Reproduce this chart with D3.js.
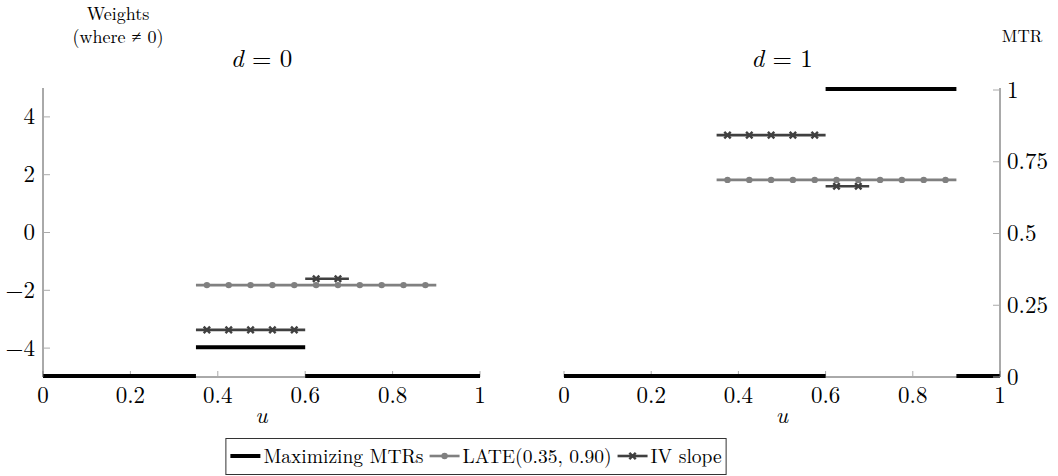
<!DOCTYPE html>
<meta charset="utf-8">
<script src="https://d3js.org/d3.v7.min.js"></script>
<style>
  body { margin: 0; background: #fff; }
</style>
<body>
<div id="chart"></div>
<script>
// ---- data ----
const uTicks = [0, 0.2, 0.4, 0.6, 0.8, 1];
const weightTicks = [-4, -2, 0, 2, 4];
const mtrTicks = [0, 0.25, 0.5, 0.75, 1];

// maximizing MTRs (right axis), piecewise constant
const mtrBreaksD0 = [0, 0.35, 0.6, 1];
const mtrD0 = [0, 0.1, 0];
const mtrBreaksD1 = [0, 0.6, 0.9, 1];
const mtrD1 = [0, 1, 0];

// LATE(0.35, 0.90) weights (left axis)
const lateBreaks = [0.35, 0.9];
const lateD0 = [-1.82];
const lateD1 = [1.82];
const lateMarks = [0.375, 0.425, 0.475, 0.525, 0.575, 0.625, 0.675, 0.725, 0.775, 0.825, 0.875];

// IV slope weights (left axis)
const ivBreaks = [0.35, 0.6, 0.7];
const ivD0 = [-3.37, -1.6];
const ivD1 = [3.37, 1.6];
const ivMarks = [0.375, 0.425, 0.475, 0.525, 0.575, 0.625, 0.675];

const legendLabels = ["Maximizing MTRs", "LATE(0.35, 0.90)", "IV slope"];

const W = 1058, H = 476;
const black = "#000", lateCol = "#808080", ivCol = "#404040", axisCol = "#555", tickCol = "#aaa";
const FONT = '"Latin Modern Roman", "CMU Serif", "Liberation Serif", serif';

const svg = d3.select("#chart").append("svg")
    .attr("width", W).attr("height", H);

// every text gets the font set on itself
function txt(sel, size) {
  return sel.append("text").style("font-family", FONT).style("font-size", size + "px").attr("fill", "#000");
}

const yW = d3.scaleLinear().domain([-5, 5]).range([377, 88]);
const yM = d3.scaleLinear().domain([0, 1]).range([377, 90]);

const panels = [
  {x: d3.scaleLinear().domain([0, 1]).range([43, 480]), d: 0,
   mtrB: mtrBreaksD0, mtr: mtrD0, late: lateD0, iv: ivD0},
  {x: d3.scaleLinear().domain([0, 1]).range([564, 1000]), d: 1,
   mtrB: mtrBreaksD1, mtr: mtrD1, late: lateD1, iv: ivD1}
];

function segs(breaks, vals) {
  return vals.map((v, i) => ({u0: breaks[i], u1: breaks[i + 1], v: v}));
}
function valAt(breaks, vals, u) {
  for (let i = 0; i < vals.length; i++) if (u >= breaks[i] && u <= breaks[i + 1]) return vals[i];
  return null;
}
const xMark = "M-3.2,-3.2L3.2,3.2M-3.2,3.2L3.2,-3.2";

panels.forEach(p => {
  const g = svg.append("g");
  const x = p.x;
  const [x0, x1] = x.range();

  // bottom axis
  g.append("line").attr("x1", x0).attr("x2", x1).attr("y1", 377).attr("y2", 377)
    .attr("stroke", axisCol).attr("stroke-width", 1);
  uTicks.forEach(d => {
    g.append("line").attr("x1", x(d)).attr("x2", x(d)).attr("y1", 377).attr("y2", 371)
      .attr("stroke", tickCol);
    txt(g, 23).attr("x", x(d)).attr("y", 403).attr("text-anchor", "middle")
      .text(d3.format("~g")(d));
  });
  txt(g, 23).attr("x", x(0.5)).attr("y", 423).attr("text-anchor", "middle")
    .style("font-style", "italic").text("u");

  // title
  const t = txt(g, 25).attr("x", x(0.5)).attr("y", 67).attr("text-anchor", "middle");
  t.append("tspan").style("font-style", "italic").text("d");
  t.append("tspan").text(" = " + p.d);

  // maximizing MTRs
  g.selectAll(".mtr").data(segs(p.mtrB, p.mtr)).enter().append("line")
    .attr("x1", d => x(d.u0)).attr("x2", d => x(d.u1))
    .attr("y1", d => yM(d.v) - 1).attr("y2", d => yM(d.v) - 1)
    .attr("stroke", black).attr("stroke-width", 4);

  // LATE
  g.selectAll(".late").data(segs(lateBreaks, p.late)).enter().append("line")
    .attr("x1", d => x(d.u0)).attr("x2", d => x(d.u1))
    .attr("y1", d => yW(d.v)).attr("y2", d => yW(d.v))
    .attr("stroke", lateCol).attr("stroke-width", 2.6);
  g.selectAll(".lm").data(lateMarks).enter().append("circle")
    .attr("cx", d => x(d)).attr("cy", d => yW(valAt(lateBreaks, p.late, d)))
    .attr("r", 3.2).attr("fill", lateCol);

  // IV slope
  g.selectAll(".iv").data(segs(ivBreaks, p.iv)).enter().append("line")
    .attr("x1", d => x(d.u0)).attr("x2", d => x(d.u1))
    .attr("y1", d => yW(d.v)).attr("y2", d => yW(d.v))
    .attr("stroke", ivCol).attr("stroke-width", 2.6);
  g.selectAll(".im").data(ivMarks).enter().append("path")
    .attr("transform", d => `translate(${x(d)},${yW(valAt(ivBreaks, p.iv, d))})`)
    .attr("d", xMark)
    .attr("stroke", ivCol).attr("stroke-width", 2.4);
});

// left weights axis
const la = svg.append("g");
la.append("line").attr("x1", 43).attr("x2", 43).attr("y1", 88).attr("y2", 377)
  .attr("stroke", axisCol);
weightTicks.forEach(d => {
  la.append("line").attr("x1", 43).attr("x2", 50).attr("y1", yW(d)).attr("y2", yW(d))
    .attr("stroke", tickCol);
  txt(la, 23).attr("x", 35).attr("y", yW(d) + 7.5).attr("text-anchor", "end")
    .text(d < 0 ? "\u2212" + (-d) : d);
});
txt(la, 18).attr("x", 118).attr("y", 20).attr("text-anchor", "middle").text("Weights");
txt(la, 18).attr("x", 118).attr("y", 43).attr("text-anchor", "middle").text("(where \u2260 0)");

// right MTR axis
const ra = svg.append("g");
ra.append("line").attr("x1", 1000).attr("x2", 1000).attr("y1", 88).attr("y2", 377)
  .attr("stroke", axisCol);
mtrTicks.forEach(d => {
  ra.append("line").attr("x1", 993).attr("x2", 1000).attr("y1", yM(d)).attr("y2", yM(d))
    .attr("stroke", tickCol);
  txt(ra, 23).attr("x", 1007).attr("y", yM(d) + 7.5).attr("text-anchor", "start")
    .text(d3.format("~g")(d));
});
txt(ra, 17).attr("x", 1022).attr("y", 42).attr("text-anchor", "middle").text("MTR");

// legend, laid out from measured text widths
const lg = svg.append("g");
const box = lg.append("rect").attr("y", 438.5).attr("height", 36)
  .attr("fill", "#fff").attr("stroke", "#333");
const ly = 456;
const styles = [
  {col: black, w: 4, mark: null},
  {col: lateCol, w: 2.6, mark: "dot"},
  {col: ivCol, w: 2.6, mark: "x"}
];
let cx = 0;
const items = lg.append("g");
legendLabels.forEach((label, i) => {
  const s = styles[i];
  items.append("line").attr("x1", cx + 5).attr("x2", cx + 35).attr("y1", ly).attr("y2", ly)
    .attr("stroke", s.col).attr("stroke-width", s.w);
  if (s.mark === "dot") items.append("circle").attr("cx", cx + 20).attr("cy", ly).attr("r", 3.2).attr("fill", s.col);
  if (s.mark === "x") items.append("path").attr("transform", `translate(${cx + 20},${ly})`)
    .attr("d", xMark).attr("stroke", s.col).attr("stroke-width", 2.4);
  const tx = txt(items, 19.5).attr("x", cx + 38).attr("y", ly + 7).text(label);
  cx += 38 + tx.node().getComputedTextLength() + 1;
});
const lx = 474 - cx / 2;
items.attr("transform", `translate(${lx},0)`);
box.attr("x", lx + 0.5).attr("width", cx + 3);
</script>
</body>
